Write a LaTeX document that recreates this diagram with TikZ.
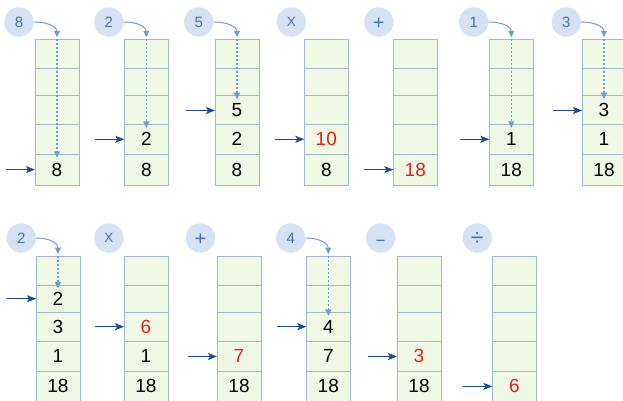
\documentclass[tikz,border=0pt]{standalone}
\usepackage{fontspec}
\setmainfont{Liberation Sans}
\usetikzlibrary{arrows.meta,calc}
\definecolor{cellfill}{HTML}{EFF7E5}
\definecolor{cellline}{HTML}{A0B9C9}
\definecolor{circfill}{HTML}{D5E2F3}
\definecolor{circtext}{HTML}{4571B0}
\definecolor{darkarr}{HTML}{1C4C8C}
\definecolor{lightarr}{HTML}{6F9CD3}
\definecolor{redtxt}{HTML}{E0201C}
\newcommand\mkstack[3]{%
  \foreach \i/\a/\b in {1/39.3/68.3,2/68.3/95.7,3/95.7/124.3,4/124.3/154.3,5/154.3/185.0}{%
    \pgfmathsetmacro\hh{\b-\a}
    \node[cell, minimum height=\hh pt, anchor=north west] (#1c\i) at (#2,\a+#3) {};
  }}
\tikzset{
  cell/.style={rectangle, draw=cellline, fill=cellfill, line width=1pt, minimum width=44pt, inner sep=0pt, outer sep=0pt},
  num/.style={inner sep=0pt, font=\fontsize{19}{19}\selectfont, text=black},
  rnum/.style={num, text=redtxt},
  opc/.style={circle, fill=circfill, minimum size=29.4pt, inner sep=0pt, text=circtext, font=\fontsize{15}{15}\selectfont},
  opx/.style={opc, font=\fontsize{13.5}{13.5}\selectfont},
  opplus/.style={opc, font=\fontsize{20}{20}\selectfont, text height=14.1pt, text depth=0pt},
  opminus/.style={opc, font=\fontsize{17}{17}\selectfont, text height=16.4pt, text depth=0pt},
  opdiv/.style={opc, font=\fontsize{23}{23}\selectfont, text height=14pt, text depth=0pt},
  curv/.style={draw=lightarr, line width=1pt, -{Triangle[length=6.5pt,width=6pt]}, shorten >=2pt},
  dott/.style={draw=lightarr, line width=1.2pt, dash pattern=on 2pt off 2pt, -{Triangle[length=6.5pt,width=6pt]}, shorten >=-3.5pt},
  inarr/.style={draw=darkarr, line width=1.2pt, -{Stealth[length=9pt,width=7pt,inset=2pt]}}
}
\begin{document}
\begin{tikzpicture}[x=1pt,y=-1pt]
\useasboundingbox (0,0) rectangle (623,401);
\clip (0,0) rectangle (623,401);
% ---------- row 1 ----------
\mkstack{a1}{35}{0}
\mkstack{a2}{124.3}{0}
\mkstack{a3}{215}{0}
\mkstack{a4}{304.3}{0}
\mkstack{a5}{393.3}{0}
\mkstack{a6}{489.3}{0}
\mkstack{a7}{582}{0}
\node[opc] (o1) at (19,22) {8};
\node[opc] (o2) at (108.8,22) {2};
\node[opc] (o3) at (198.7,22) {5};
\node[opx] (o4) at (291.3,22) {X};
\node[opplus] (o5) at (378.8,22) {+};
\node[opc] (o6) at (473.7,22) {1};
\node[opc] (o7) at (566.2,22) {3};
% numbers
\node[num] at (a1c5) {8};
\node[num] at (a2c4) {2};
\node[num] at (a2c5) {8};
\node[num] at (a3c3) {5};
\node[num] at (a3c4) {2};
\node[num] at (a3c5) {8};
\node[rnum] at (a4c4) {10};
\node[num] at (a4c5) {8};
\node[rnum] at (a5c5) {18};
\node[num] at (a6c4) {1};
\node[num] at (a6c5) {18};
\node[num] at (a7c3) {3};
\node[num] at (a7c4) {1};
\node[num] at (a7c5) {18};
% curved + dotted arrows
\foreach \s/\o/\t in {a1/o1/5, a2/o2/4, a3/o3/3, a6/o6/4, a7/o7/3}{
  \draw[curv] (\o.east) .. controls +(15,0) and +(0,-12) .. (\s c1.north);
  \draw[dott] (\s c1.north) -- (\s c\t.north);
}
% input arrows
\foreach \s/\t/\d in {a1/5/0, a2/4/0, a3/3/0.5, a4/4/0, a5/5/0, a6/4/0, a7/3/0.5}{
  \draw[inarr] ($(\s c\t.west)+(-29,\d)$) -- ($(\s c\t.west)+(0,\d)$);
}
% ---------- row 2 ----------
\mkstack{b1}{36}{216.7}
\mkstack{b2}{124}{216.7}
\mkstack{b3}{217}{216.7}
\mkstack{b4}{306.3}{216.7}
\mkstack{b5}{397}{216.7}
\mkstack{b6}{492.3}{216.7}
\node[opc] (p1) at (21.3,238) {2};
\node[opx] (p2) at (108.8,238) {X};
\node[opplus] (p3) at (200.5,238) {+};
\node[opc] (p4) at (290.7,238) {4};
\node[opminus] (p5) at (380.7,238) {−};
\node[opdiv] (p6) at (477.3,238) {÷};
\node[num] at (b1c2) {2};
\node[num] at (b1c3) {3};
\node[num] at (b1c4) {1};
\node[num] at (b1c5) {18};
\node[rnum] at (b2c3) {6};
\node[num] at (b2c4) {1};
\node[num] at (b2c5) {18};
\node[rnum] at (b3c4) {7};
\node[num] at (b3c5) {18};
\node[num] at (b4c3) {4};
\node[num] at (b4c4) {7};
\node[num] at (b4c5) {18};
\node[rnum] at (b5c4) {3};
\node[num] at (b5c5) {18};
\node[rnum] at (b6c5) {6};
\foreach \s/\o/\t in {b1/p1/2, b4/p4/3}{
  \draw[curv] (\o.east) .. controls +(15,0) and +(0,-12) .. (\s c1.north);
  \draw[dott] (\s c1.north) -- (\s c\t.north);
}
\foreach \s/\t/\d in {b1/2/0, b2/3/0, b3/4/0.5, b4/3/0, b5/4/0.5, b6/5/0}{
  \draw[inarr] ($(\s c\t.west)+(-29,\d)$) -- ($(\s c\t.west)+(0,\d)$);
}
\end{tikzpicture}
\end{document}
